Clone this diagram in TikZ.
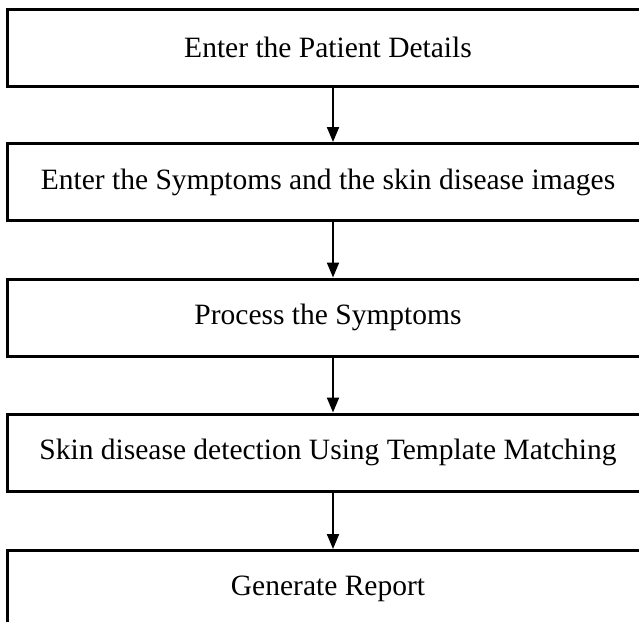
\documentclass[tikz,border=0pt]{standalone}
\usepackage{fontspec}
\setmainfont{Liberation Serif}
\usetikzlibrary{arrows.meta}
\begin{document}
\begin{tikzpicture}[
  x=1pt,y=-1pt,
  stage/.style={shape=rectangle,draw=black,line width=3pt,minimum width=642pt,minimum height=77pt,font=\fontsize{29.5}{34}\selectfont},
  flow/.style={draw=black,line width=2pt,-{Triangle[length=15pt,width=12pt]}}
]
  \useasboundingbox (0,0) rectangle (639,621);

  \node[stage] (patient)  at (328,47.5)  {Enter the Patient Details};
  \node[stage] (symptoms) at (328,182)   {Enter the Symptoms and the skin disease images};
  \node[stage] (process)  at (328,317.5) {Process the Symptoms};
  \node[stage] (detect)   at (328,452.5) {Skin disease detection Using Template Matching};
  \node[stage] (report)   at (328,589)   {Generate Report};

  \draw[flow] (patient.south -| 333,0) -- (symptoms.north -| 333,0);
  \draw[flow] (symptoms.south -| 333,0) -- (process.north -| 333,0);
  \draw[flow] (process.south -| 333,0) -- (detect.north -| 333,0);
  \draw[flow] (detect.south -| 333,0) -- (report.north -| 333,0);
\end{tikzpicture}
\end{document}
